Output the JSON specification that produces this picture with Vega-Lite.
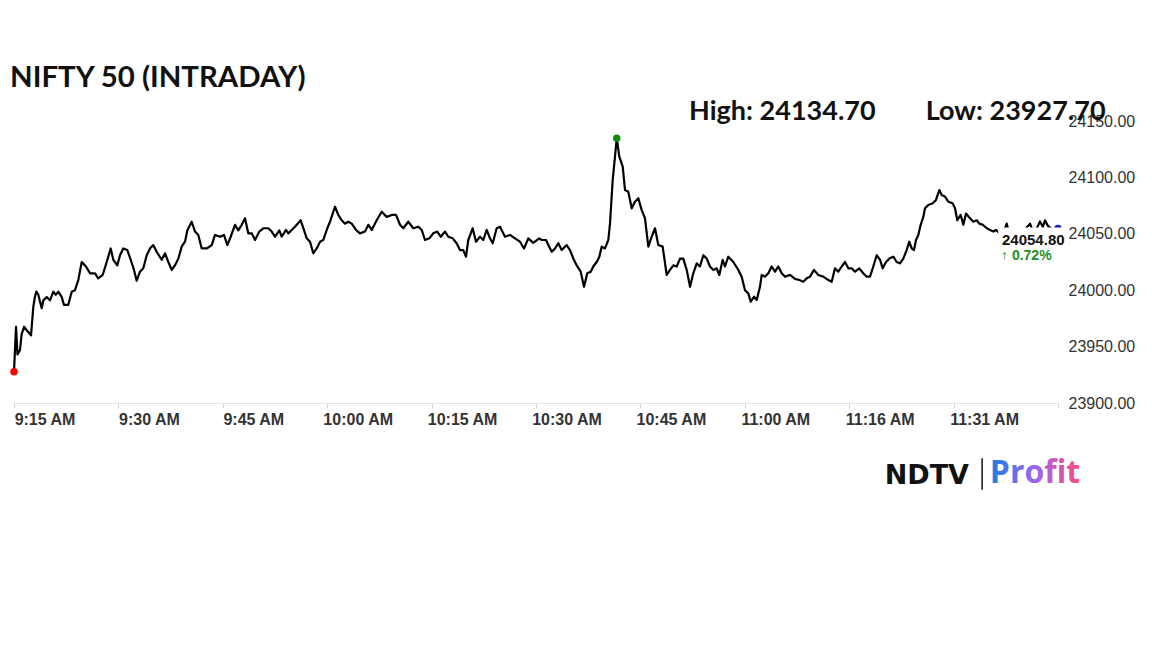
{
  "$schema": "https://vega.github.io/schema/vega-lite/v6.json",
  "width": 1044,
  "height": 282,
  "autosize": {"type": "none"},
  "padding": {"left": 14, "top": 121, "right": 94, "bottom": 245},
  "background": "white",
  "config": {"view": {"stroke": null}},
  "datasets": {
    "nifty": [
      {"t":0,"price":23927.7},{"t":0.29,"price":23967.6},{"t":0.5,"price":23943},{"t":0.86,"price":23947},{"t":1.1,"price":23961},{"t":1.45,"price":23967.6},{"t":1.9,"price":23964},{"t":2.2,"price":23961.8},{"t":2.45,"price":23960},{"t":2.77,"price":23985},{"t":3.0,"price":23994},{"t":3.2,"price":23998.7},{"t":3.49,"price":23996},{"t":3.98,"price":23984},{"t":4.21,"price":23991},{"t":4.7,"price":23994},{"t":5.17,"price":23991},{"t":5.65,"price":23998.7},{"t":6.0,"price":23996},{"t":6.36,"price":23998.7},{"t":6.85,"price":23994},{"t":7.18,"price":23987},{"t":7.8,"price":23987},{"t":8.29,"price":23998.7},{"t":8.76,"price":24000},{"t":9.24,"price":24009},{"t":9.73,"price":24025},{"t":10.34,"price":24021},{"t":10.92,"price":24015},{"t":11.64,"price":24015},{"t":12.11,"price":24010.5},{"t":12.74,"price":24013.5},{"t":13.32,"price":24025},{"t":13.89,"price":24037},{"t":14.27,"price":24027},{"t":14.84,"price":24022},{"t":15.23,"price":24031},{"t":15.7,"price":24037},{"t":16.28,"price":24035.6},{"t":16.77,"price":24027},{"t":17.24,"price":24018},{"t":17.63,"price":24008.4},{"t":18.1,"price":24016.4},{"t":18.58,"price":24019.4},{"t":19.07,"price":24031},{"t":19.54,"price":24037},{"t":20.01,"price":24040},{"t":20.5,"price":24034},{"t":21.22,"price":24027},{"t":21.7,"price":24032.7},{"t":22.17,"price":24025},{"t":22.66,"price":24018},{"t":23.13,"price":24022},{"t":23.61,"price":24028},{"t":24.09,"price":24038.6},{"t":24.57,"price":24043},{"t":24.9,"price":24053},{"t":25.53,"price":24060.7},{"t":26.01,"price":24052},{"t":26.48,"price":24049},{"t":26.97,"price":24037},{"t":27.69,"price":24037},{"t":28.41,"price":24040},{"t":28.88,"price":24049},{"t":29.6,"price":24047.4},{"t":30.17,"price":24049},{"t":30.65,"price":24040},{"t":31.14,"price":24047.4},{"t":31.75,"price":24058},{"t":32.23,"price":24053},{"t":32.72,"price":24058},{"t":33.19,"price":24063.7},{"t":33.66,"price":24050.4},{"t":34.15,"price":24050.4},{"t":34.63,"price":24044.5},{"t":35.24,"price":24052},{"t":35.82,"price":24054.9},{"t":36.54,"price":24054.9},{"t":37.03,"price":24052},{"t":37.5,"price":24047.4},{"t":38.12,"price":24053},{"t":38.46,"price":24047.4},{"t":39.08,"price":24053.4},{"t":39.41,"price":24050.4},{"t":39.9,"price":24053.4},{"t":40.37,"price":24056.3},{"t":41.19,"price":24062},{"t":41.57,"price":24055},{"t":42.06,"price":24046},{"t":42.53,"price":24043},{"t":43.0,"price":24032.7},{"t":43.49,"price":24037},{"t":43.97,"price":24043},{"t":44.44,"price":24044.5},{"t":44.93,"price":24053.4},{"t":45.4,"price":24060.7},{"t":46.12,"price":24074},{"t":46.59,"price":24066.7},{"t":47.08,"price":24062},{"t":47.56,"price":24059},{"t":48.03,"price":24060.7},{"t":48.52,"price":24059},{"t":49.14,"price":24053.4},{"t":49.71,"price":24050.4},{"t":50.43,"price":24052},{"t":50.91,"price":24058},{"t":51.4,"price":24053.4},{"t":52.11,"price":24062},{"t":52.83,"price":24069.6},{"t":53.55,"price":24065},{"t":54.27,"price":24066.7},{"t":54.89,"price":24066.7},{"t":55.46,"price":24058},{"t":55.93,"price":24054.9},{"t":56.65,"price":24060.7},{"t":57.37,"price":24054.9},{"t":58.09,"price":24056.3},{"t":58.58,"price":24053.4},{"t":59.05,"price":24044.5},{"t":59.67,"price":24046},{"t":60.24,"price":24050.4},{"t":60.82,"price":24052},{"t":61.31,"price":24047.4},{"t":61.93,"price":24052},{"t":62.4,"price":24047.4},{"t":63.03,"price":24046},{"t":63.6,"price":24041.6},{"t":64.08,"price":24035.6},{"t":64.55,"price":24035.6},{"t":64.94,"price":24029.7},{"t":65.27,"price":24044.5},{"t":65.9,"price":24054.9},{"t":66.38,"price":24043},{"t":66.95,"price":24047.4},{"t":67.43,"price":24044.5},{"t":67.92,"price":24053.4},{"t":68.39,"price":24046},{"t":68.78,"price":24041.6},{"t":69.35,"price":24054.9},{"t":69.83,"price":24056.3},{"t":70.55,"price":24047.4},{"t":71.26,"price":24049},{"t":71.98,"price":24046},{"t":72.7,"price":24043},{"t":73.28,"price":24037},{"t":73.89,"price":24046},{"t":74.61,"price":24042},{"t":75.47,"price":24046},{"t":75.82,"price":24044.5},{"t":76.44,"price":24044.5},{"t":76.77,"price":24040},{"t":77.26,"price":24034},{"t":77.73,"price":24037},{"t":78.21,"price":24041.6},{"t":78.69,"price":24035.6},{"t":79.41,"price":24040},{"t":79.89,"price":24035.6},{"t":80.36,"price":24028},{"t":80.85,"price":24022},{"t":81.42,"price":24016.4},{"t":81.9,"price":24003},{"t":82.37,"price":24015},{"t":82.86,"price":24016.4},{"t":83.23,"price":24021},{"t":83.72,"price":24025},{"t":84.1,"price":24029.7},{"t":84.44,"price":24038.6},{"t":84.91,"price":24037},{"t":85.39,"price":24044.5},{"t":85.63,"price":24059},{"t":86.02,"price":24097.7},{"t":86.35,"price":24118.4},{"t":86.6,"price":24134.7},{"t":86.97,"price":24118.4},{"t":87.46,"price":24109.5},{"t":87.79,"price":24088.8},{"t":88.26,"price":24087.3},{"t":88.75,"price":24072.6},{"t":89.22,"price":24078.5},{"t":89.7,"price":24081.5},{"t":90.19,"price":24071},{"t":90.66,"price":24063.7},{"t":91.14,"price":24038.6},{"t":91.62,"price":24047.4},{"t":92.1,"price":24054.9},{"t":92.57,"price":24040},{"t":93.2,"price":24038.6},{"t":93.78,"price":24013.5},{"t":94.25,"price":24018},{"t":94.73,"price":24022},{"t":95.22,"price":24021},{"t":95.69,"price":24028},{"t":96.16,"price":24028},{"t":96.65,"price":24018},{"t":97.13,"price":24003},{"t":97.6,"price":24015},{"t":98.09,"price":24023.8},{"t":98.56,"price":24021},{"t":99.04,"price":24031},{"t":99.53,"price":24028},{"t":100.0,"price":24021},{"t":100.47,"price":24018},{"t":100.96,"price":24019.4},{"t":101.34,"price":24013.5},{"t":101.82,"price":24027},{"t":102.15,"price":24021},{"t":102.63,"price":24029.7},{"t":103.35,"price":24025},{"t":104.07,"price":24018},{"t":104.55,"price":24012},{"t":105.03,"price":24000},{"t":105.5,"price":23997.2},{"t":105.85,"price":23989.8},{"t":106.32,"price":23994.2},{"t":106.71,"price":23991.3},{"t":107.18,"price":24003},{"t":107.43,"price":24013.5},{"t":107.9,"price":24012},{"t":108.38,"price":24015},{"t":108.86,"price":24021},{"t":109.34,"price":24016.4},{"t":109.81,"price":24021},{"t":110.3,"price":24015},{"t":110.78,"price":24012},{"t":111.49,"price":24013.5},{"t":112.21,"price":24010},{"t":112.83,"price":24009},{"t":113.4,"price":24007.5},{"t":113.89,"price":24010.5},{"t":114.37,"price":24012},{"t":114.94,"price":24018},{"t":115.56,"price":24013.5},{"t":116.28,"price":24012},{"t":117.0,"price":24009},{"t":117.49,"price":24007.5},{"t":117.96,"price":24019.4},{"t":118.43,"price":24016.4},{"t":118.92,"price":24021},{"t":119.4,"price":24025},{"t":119.87,"price":24019.4},{"t":120.36,"price":24019.4},{"t":120.83,"price":24016.4},{"t":121.45,"price":24019.4},{"t":122.02,"price":24015},{"t":122.51,"price":24012},{"t":122.99,"price":24012},{"t":123.46,"price":24021},{"t":123.95,"price":24031},{"t":124.43,"price":24027},{"t":124.81,"price":24019.4},{"t":125.29,"price":24025},{"t":125.76,"price":24028},{"t":126.34,"price":24029.7},{"t":126.82,"price":24025},{"t":127.3,"price":24023.8},{"t":127.77,"price":24028},{"t":128.26,"price":24035.6},{"t":128.63,"price":24043},{"t":128.98,"price":24037},{"t":129.31,"price":24035.6},{"t":129.6,"price":24044.5},{"t":129.93,"price":24049},{"t":130.27,"price":24058},{"t":130.65,"price":24065},{"t":130.89,"price":24072.6},{"t":131.37,"price":24075.5},{"t":132.0,"price":24077},{"t":132.47,"price":24080},{"t":132.95,"price":24088.8},{"t":133.29,"price":24084.4},{"t":133.76,"price":24083},{"t":134.24,"price":24078.5},{"t":134.87,"price":24077},{"t":135.2,"price":24072.6},{"t":135.53,"price":24062},{"t":136.02,"price":24066.7},{"t":136.4,"price":24058},{"t":136.78,"price":24068},{"t":137.36,"price":24063.7},{"t":137.83,"price":24060.7},{"t":138.32,"price":24062},{"t":138.69,"price":24059},{"t":139.18,"price":24058},{"t":139.76,"price":24055},{"t":140.23,"price":24053.4},{"t":140.71,"price":24052},{"t":141.09,"price":24053.4},{"t":141.67,"price":24050},{"t":142.24,"price":24052},{"t":142.63,"price":24059},{"t":142.96,"price":24051},{"t":143.68,"price":24053},{"t":144.54,"price":24050},{"t":145.11,"price":24053},{"t":145.98,"price":24059},{"t":146.41,"price":24052},{"t":146.98,"price":24055},{"t":147.41,"price":24061},{"t":147.84,"price":24056},{"t":148.13,"price":24062},{"t":148.56,"price":24057},{"t":149.14,"price":24054},{"t":150,"price":24054.8}
    ],
    "marks": [
      {"t":0,"price":23927.7,"kind":"low"},
      {"t":86.6,"price":24134.7,"kind":"high"},
      {"t":150,"price":24054.8,"kind":"last"}
    ]
  },
  "layer": [
    {
      "data": {"name": "nifty"},
      "mark": {"type": "line", "color": "#000000", "strokeWidth": 2.2, "strokeJoin": "round"},
      "encoding": {
        "x": {"field": "t", "type": "quantitative", "scale": {"domain": [0, 150], "nice": false, "zero": false},
          "axis": {"values": [0,15,30,45,60,75,90,105,120,135,150], "labelExpr": "['9:15 AM','9:30 AM','9:45 AM','10:00 AM','10:15 AM','10:30 AM','10:45 AM','11:00 AM','11:16 AM','11:31 AM',''][round(datum.value/15)]", "labelAlign": "center", "labelOffset": 30.5, "labelFont": "Liberation Sans", "labelFontSize": 16, "labelFontWeight": "bold", "labelColor": "#333333", "domainColor": "#e3e3e3", "tickColor": "#d6d6d6", "tickSize": 5, "labelPadding": 3, "grid": false, "title": null, "labelOverlap": false, "labelFlush": false, "labelBound": false}},
        "y": {"field": "price", "type": "quantitative", "scale": {"domain": [23900, 24150], "nice": false, "zero": false},
          "axis": {"orient": "right", "values": [23900,23950,24000,24050,24100,24150], "format": ".2f", "labelFont": "Liberation Sans", "labelFontSize": 16, "labelColor": "#333333", "domain": false, "ticks": false, "tickSize": 0, "labelPadding": 10, "grid": false, "title": null, "labelAlign": "left", "labelOverlap": false, "labelBound": false, "labelFlush": false}}
      }
    },
    {
      "data": {"name": "marks"},
      "mark": {"type": "point", "filled": true, "opacity": 1, "size": 55},
      "encoding": {
        "x": {"field": "t", "type": "quantitative", "title": null},
        "y": {"field": "price", "type": "quantitative", "title": null},
        "color": {"field": "kind", "type": "nominal", "scale": {"domain": ["low", "high", "last"], "range": ["#ff0000", "#0e8a0e", "#1818c8"]}, "legend": null}
      }
    },
    {
      "data": {"values": [{}]},
      "mark": {"type": "rect", "color": "#ffffff", "opacity": 1},
      "encoding": {
        "x": {"datum": 141.4, "type": "quantitative"},
        "x2": {"datum": 151.5},
        "y": {"datum": 24055.5, "type": "quantitative"},
        "y2": {"datum": 24020}
      }
    },
    {
      "data": {"name": "marks"},
      "transform": [{"filter": "datum.kind === 'last'"}],
      "mark": {"type": "text", "align": "left", "baseline": "middle", "dx": -56, "dy": 12, "font": "Liberation Sans", "fontSize": 15, "fontWeight": "bold", "color": "#111111"},
      "encoding": {
        "x": {"field": "t", "type": "quantitative", "title": null},
        "y": {"field": "price", "type": "quantitative", "title": null},
        "text": {"field": "price", "type": "quantitative", "format": ".2f"}
      }
    },
    {
      "data": {"name": "marks"},
      "transform": [{"filter": "datum.kind === 'last'"}],
      "mark": {"type": "text", "align": "left", "baseline": "middle", "dx": -57, "dy": 28, "font": "Liberation Sans", "fontSize": 14, "fontWeight": "bold", "color": "#1e8f22"},
      "encoding": {
        "x": {"field": "t", "type": "quantitative", "title": null},
        "y": {"field": "price", "type": "quantitative", "title": null},
        "text": {"value": "↑ 0.72%"}
      }
    },
    {
      "data": {"values": [{}]},
      "mark": {"type": "text", "align": "left", "baseline": "alphabetic", "font": "Lato", "fontSize": 29.4, "fontWeight": "bold", "color": "#111111"},
      "encoding": {
        "x": {"datum": -0.57, "type": "quantitative"},
        "y": {"datum": 24180, "type": "quantitative"},
        "text": {"value": "NIFTY 50 (INTRADAY)"}
      }
    },
    {
      "data": {"values": [{}]},
      "mark": {"type": "text", "align": "left", "baseline": "alphabetic", "font": "Lato", "fontSize": 27, "fontWeight": "bold", "color": "#111111"},
      "encoding": {
        "x": {"datum": 97.0, "type": "quantitative"},
        "y": {"datum": 24151, "type": "quantitative"},
        "text": {"value": "High: 24134.70"}
      }
    },
    {
      "data": {"values": [{}]},
      "mark": {"type": "text", "align": "left", "baseline": "alphabetic", "font": "Lato", "fontSize": 27, "fontWeight": "bold", "color": "#111111"},
      "encoding": {
        "x": {"datum": 131.0, "type": "quantitative"},
        "y": {"datum": 24151, "type": "quantitative"},
        "text": {"value": "Low: 23927.70"}
      }
    },
    {
      "data": {"values": [{}]},
      "mark": {"type": "text", "align": "left", "baseline": "alphabetic", "font": "DejaVu Sans", "fontSize": 27, "fontWeight": "bold", "color": "#111111"},
      "encoding": {
        "x": {"datum": 125.1, "type": "quantitative"},
        "y": {"datum": 23828.5, "type": "quantitative"},
        "text": {"value": "NDTV"}
      }
    },
    {
      "data": {"values": [{}]},
      "mark": {"type": "rule", "color": "#111111", "strokeWidth": 1.5},
      "encoding": {
        "x": {"datum": 139.1, "type": "quantitative"},
        "y": {"datum": 23851, "type": "quantitative"},
        "y2": {"datum": 23823}
      }
    },
    {
      "data": {"values": [{}]},
      "mark": {"type": "text", "align": "left", "baseline": "alphabetic", "font": "Open Sans", "fontSize": 32, "fontWeight": "bold",
        "color": {"gradient": "linear", "x1": 0, "x2": 1, "y1": 0, "y2": 0, "stops": [{"offset": 0, "color": "#1a7fe8"}, {"offset": 0.5, "color": "#9c64f0"}, {"offset": 1, "color": "#ff4c7c"}]}},
      "encoding": {
        "x": {"datum": 140.2, "type": "quantitative"},
        "y": {"datum": 23829, "type": "quantitative"},
        "text": {"value": "Profit"}
      }
    }
  ]
}
